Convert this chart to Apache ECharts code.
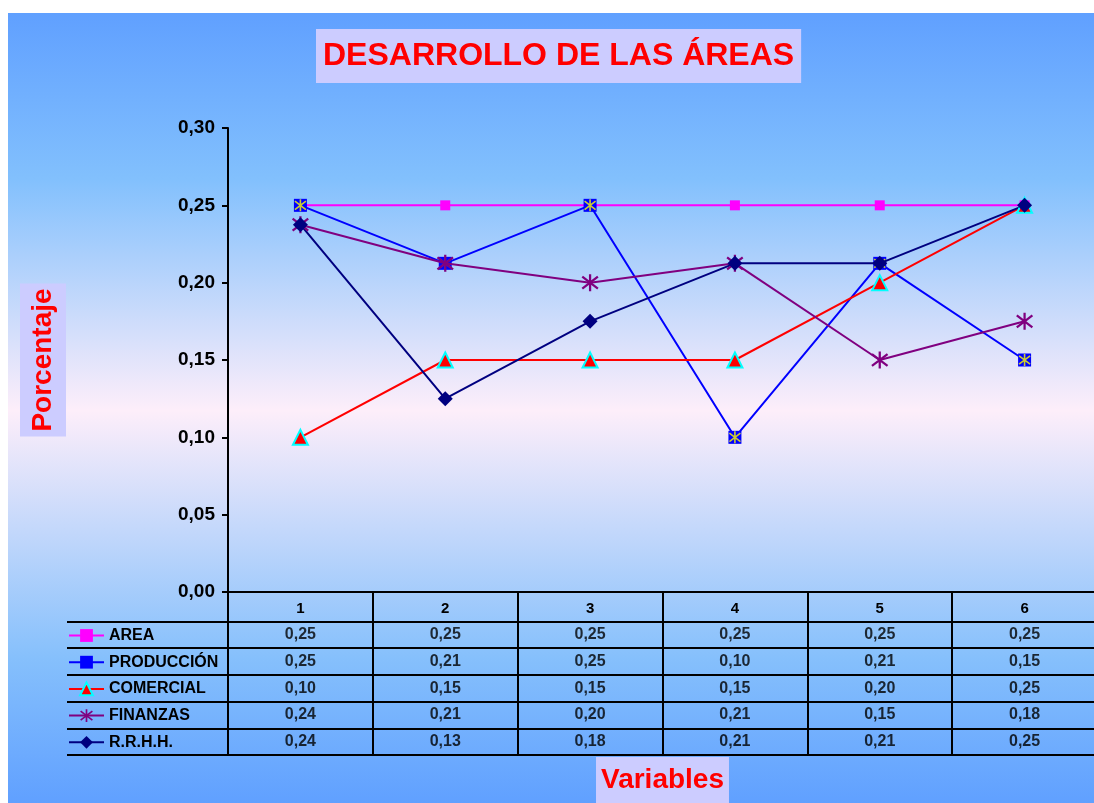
<!DOCTYPE html>
<html><head><meta charset="utf-8">
<script src="https://cdn.jsdelivr.net/npm/echarts@6/dist/echarts.min.js"></script>
<style>html,body{margin:0;padding:0;background:#fff;} #c{width:1094px;height:803px;}</style>
</head><body><div id="c"></div>
<script>
// ---- data ----
const categories = ['1', '2', '3', '4', '5', '6'];
const seriesNames = ['AREA', 'PRODUCCIÓN', 'COMERCIAL', 'FINANZAS', 'R.R.H.H.'];
const area       = [0.25, 0.25, 0.25, 0.25, 0.25, 0.25];
const produccion = [0.25, 0.2125, 0.25, 0.10, 0.2125, 0.15];
const comercial  = [0.10, 0.15, 0.15, 0.15, 0.20, 0.25];
const finanzas   = [0.2375, 0.2125, 0.20, 0.2125, 0.15, 0.175];
const rrhh       = [0.2375, 0.125, 0.175, 0.2125, 0.2125, 0.25];
const yMin = 0, yMax = 0.30, yInterval = 0.05;
const titleText = 'DESARROLLO DE LAS ÁREAS';
const yName = 'Porcentaje';
const xName = 'Variables';

// ---- helpers ----
const FONT = "'Liberation Sans', Arial, sans-serif";
const fmt = v => (Math.round(v * 100 + 1e-6) / 100).toFixed(2).replace('.', ',');
const ASTER = 'path://M8.7 0L11.3 0L11.3 20L8.7 20Z' +
  'M1.80 1.97L19.80 15.97L18.20 18.03L0.20 4.03Z' +
  'M0.20 15.97L18.20 1.97L19.80 4.03L1.80 18.03Z';
const allSeries = [area, produccion, comercial, finanzas, rrhh];
const tableData = [];
allSeries.forEach((arr, r) => arr.forEach((v, c) => tableData.push([c, r, v])));

const BLACK = '#000000';
const labelBox = {
  color: '#ff0000', fontSize: 28, fontWeight: 'bold', fontFamily: FONT,
  backgroundColor: '#ccccff', padding: [9, 5, 9, 5], lineHeight: 28
};

const chart = echarts.init(document.getElementById('c'), null, {renderer: 'canvas'});
chart.setOption({
  animation: false,
  backgroundColor: '#ffffff',
  graphic: [{
    type: 'rect', z: -100, silent: true,
    shape: {x: 8, y: 13, width: 1086, height: 790},
    style: {fill: {type: 'linear', x: 0, y: 0, x2: 0, y2: 1, colorStops: [
      {offset: 0, color: '#60a0ff'},
      {offset: 0.21, color: '#82c0fd'},
      {offset: 0.503, color: '#fdeefa'},
      {offset: 0.815, color: '#86c0fc'},
      {offset: 1, color: '#60a0ff'}
    ]}}
  }],
  title: {
    text: titleText, left: 316, top: 29, padding: [11, 7, 11, 7],
    backgroundColor: '#ccccff',
    textStyle: {color: '#ff0000', fontSize: 32, fontWeight: 'bold', fontFamily: FONT, lineHeight: 32}
  },
  legend: {
    data: seriesNames, orient: 'vertical', left: 68, top: 627.5, padding: 0,
    itemWidth: 35, itemHeight: 16, itemGap: 10.7, selectedMode: false,
    textStyle: {color: BLACK, fontSize: 16, fontWeight: 'bold', fontFamily: FONT, lineHeight: 16}
  },
  grid: [
    {left: 228, top: 128, width: 869, height: 464, outerBoundsMode: 'none', containLabel: false},
    {left: 228, top: 621.5, width: 869, height: 133.5, outerBoundsMode: 'none', containLabel: false}
  ],
  xAxis: [
    {
      type: 'category', gridIndex: 0, data: categories, boundaryGap: true,
      axisLine: {show: true, lineStyle: {color: BLACK, width: 2}},
      axisTick: {show: true, interval: 0, length: 29, lineStyle: {color: BLACK, width: 2}},
      axisLabel: {show: true, interval: 0, margin: 9, color: BLACK, fontSize: 15, fontWeight: 'bold', fontFamily: FONT},
      splitLine: {show: false},
      name: xName, nameLocation: 'middle', nameGap: 165, nameTextStyle: labelBox
    },
    {
      type: 'category', gridIndex: 1, data: categories, position: 'top',
      axisLine: {show: true, lineStyle: {color: BLACK, width: 2}},
      axisTick: {show: false}, axisLabel: {show: false},
      splitLine: {show: true, interval: 0, lineStyle: {color: BLACK, width: 2}}
    },
    {
      type: 'category', gridIndex: 1, data: categories, position: 'bottom',
      axisLine: {show: true, lineStyle: {color: BLACK, width: 2}},
      axisTick: {show: false}, axisLabel: {show: false}, splitLine: {show: false}
    }
  ],
  yAxis: [
    {
      type: 'value', gridIndex: 0, min: yMin, max: yMax, interval: yInterval,
      axisLine: {show: true, lineStyle: {color: BLACK, width: 2}},
      axisTick: {show: true, length: 6, lineStyle: {color: BLACK, width: 2}},
      axisLabel: {margin: 13, color: BLACK, fontSize: 19, fontWeight: 'bold', fontFamily: FONT, formatter: fmt},
      splitLine: {show: false},
      name: yName, nameLocation: 'middle', nameRotate: 90, nameGap: 162, nameTextStyle: labelBox
    },
    {
      type: 'category', gridIndex: 1, data: seriesNames, inverse: true,
      axisLine: {show: true, lineStyle: {color: BLACK, width: 2}},
      axisTick: {show: true, interval: 0, length: 161, lineStyle: {color: BLACK, width: 2}},
      axisLabel: {show: false},
      splitLine: {show: true, interval: 0, lineStyle: {color: BLACK, width: 2}}
    },
    {
      type: 'category', gridIndex: 1, data: seriesNames, inverse: true, offset: 161,
      axisLine: {show: true, lineStyle: {color: BLACK, width: 2}},
      axisTick: {show: false}, axisLabel: {show: false}, splitLine: {show: false}
    }
  ],
  series: [
    {
      name: seriesNames[0], type: 'line', z: 2, data: area, symbol: 'rect', symbolSize: 10,
      itemStyle: {color: '#ff00ff'}, lineStyle: {color: '#ff00ff', width: 2}
    },
    {
      name: seriesNames[1], type: 'line', z: 2, data: produccion, symbol: 'rect', symbolSize: 13,
      itemStyle: {color: '#0000ff'}, lineStyle: {color: '#0000ff', width: 2}
    },
    {
      name: 'PRODUCCIÓN-marca', type: 'scatter', z: 3, xAxisIndex: 0, yAxisIndex: 0,
      data: produccion.map((v, i) => [i, v]), symbol: ASTER, symbolSize: 12,
      itemStyle: {color: '#ffff00'}, silent: true
    },
    {
      name: seriesNames[2], type: 'line', z: 4, data: comercial, symbol: 'triangle', symbolSize: 15,
      itemStyle: {color: '#ff0000', borderColor: '#00ffff', borderWidth: 2},
      lineStyle: {color: '#ff0000', width: 2}
    },
    {
      name: seriesNames[3], type: 'line', z: 4, data: finanzas, symbol: ASTER, symbolSize: 17,
      itemStyle: {color: '#800080'}, lineStyle: {color: '#800080', width: 2}
    },
    {
      name: seriesNames[4], type: 'line', z: 4, data: rrhh, symbol: 'diamond', symbolSize: 15,
      itemStyle: {color: '#000080'}, lineStyle: {color: '#000080', width: 2}
    },
    {
      name: 'tabla', type: 'scatter', z: 4, xAxisIndex: 1, yAxisIndex: 1, data: tableData,
      symbolSize: 0, itemStyle: {color: 'rgba(0,0,0,0)'}, silent: true,
      label: {show: true, position: 'inside', color: BLACK, fontSize: 16, fontWeight: 'bold', fontFamily: FONT,
        formatter: p => fmt(p.value[2])}
    }
  ]
});
</script></body></html>
